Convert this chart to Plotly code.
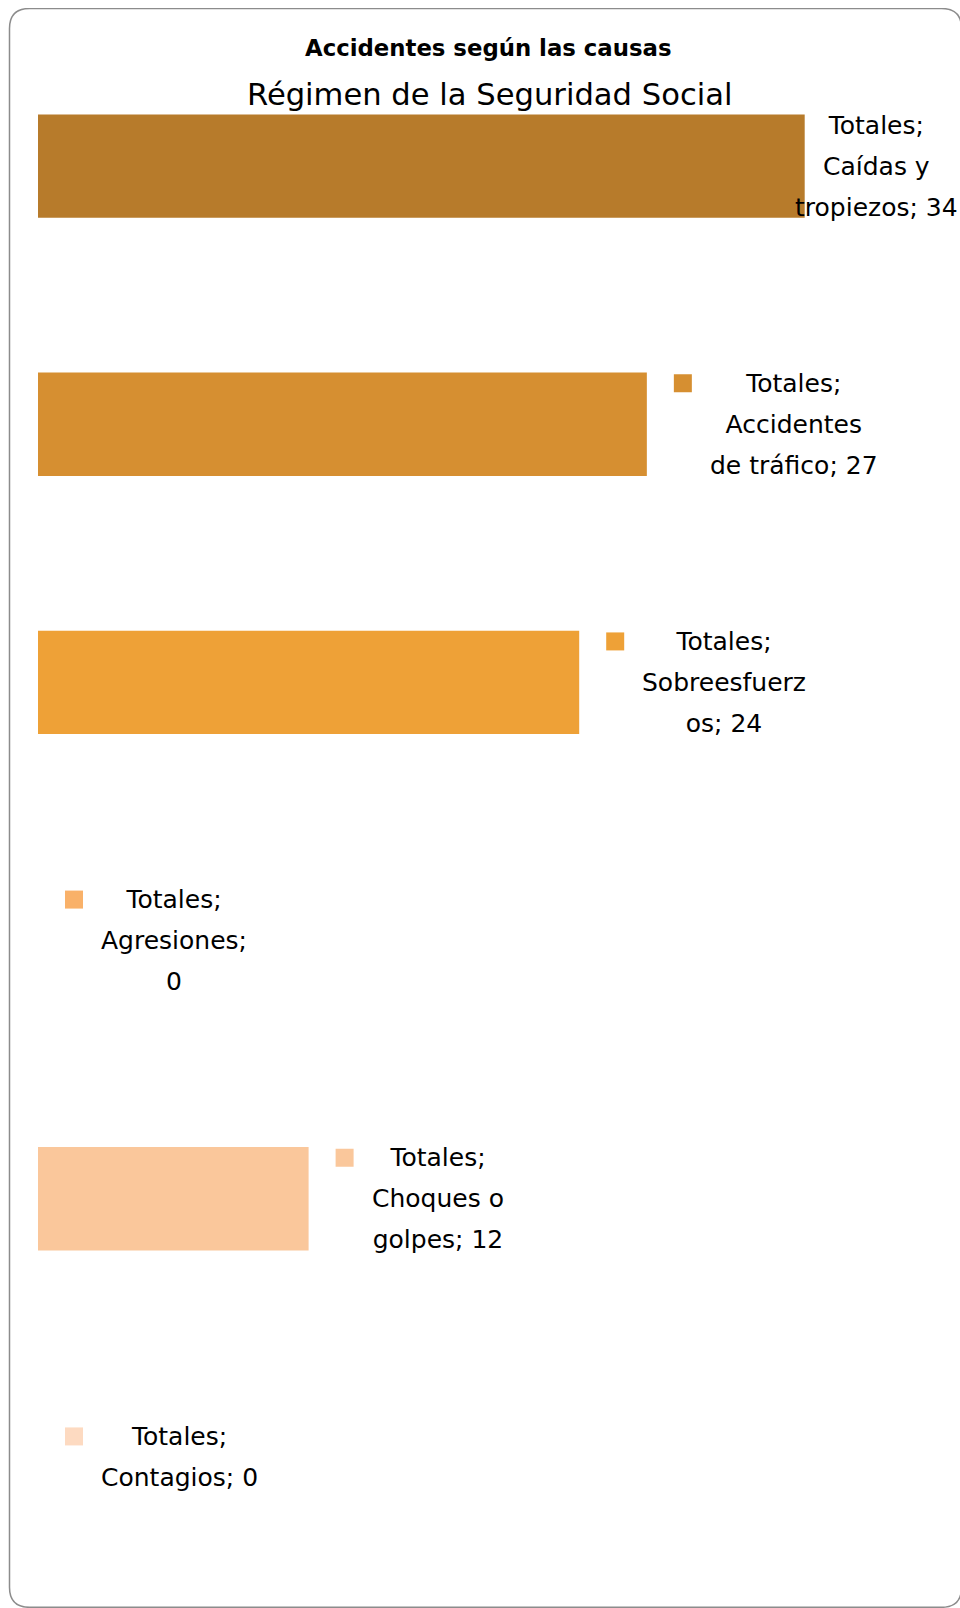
import plotly.graph_objects as go

# ---------------- data ----------------
categories = ["Caídas y tropiezos", "Accidentes de tráfico", "Sobreesfuerzos",
              "Agresiones", "Choques o golpes", "Contagios"]
values = [34, 27, 24, 0, 12, 0]
series_name = "Totales"
label_lines = [
    ["Totales;", "Caídas y", "tropiezos; 34"],
    ["Totales;", "Accidentes", "de tráfico; 27"],
    ["Totales;", "Sobreesfuerz", "os; 24"],
    ["Totales;", "Agresiones;", "0"],
    ["Totales;", "Choques o", "golpes; 12"],
    ["Totales;", "Contagios; 0"],
]
colors = ["#B77B2B", "#D68F31", "#EEA137", "#F9B169", "#FAC79B", "#FDDAC1"]
title_line1 = "Accidentes según las causas"
title_line2 = "Régimen de la Seguridad Social"

# ---------------- layout geometry ----------------
W, H = 952, 1600
OFF = 8  # page margin around the plot div (top / left)
ML, MR, MT, MB = 38 - OFF, 20, 37 - OFF, 22
PW, PH = W - ML - MR, H - MT - MB
XMAX = 40
FONT = "DejaVu Sans"


def px_x(px):  # page pixel -> paper
    return (px - OFF - ML) / PW


def px_y(py):
    return (H - MB - (py - OFF)) / PH


idx = list(range(len(categories)))

fig = go.Figure()
fig.add_trace(go.Bar(
    x=values, y=idx, orientation="h", width=0.4,
    marker=dict(color=colors, line=dict(width=0)),
    name=series_name, showlegend=False, hoverinfo="skip",
))

shapes = []
annotations = []

# card border (rounded rectangle)
L, R, T, B, r = 9.5, 961.5, 8.5, 1607.3, 20
path = (f"M {px_x(L + r)},{px_y(T)} L {px_x(R - r)},{px_y(T)} "
        f"Q {px_x(R)},{px_y(T)} {px_x(R)},{px_y(T + r)} "
        f"L {px_x(R)},{px_y(B - r)} Q {px_x(R)},{px_y(B)} {px_x(R - r)},{px_y(B)} "
        f"L {px_x(L + r)},{px_y(B)} Q {px_x(L)},{px_y(B)} {px_x(L)},{px_y(B - r)} "
        f"L {px_x(L)},{px_y(T + r)} Q {px_x(L)},{px_y(T)} {px_x(L + r)},{px_y(T)} Z")
shapes.append(dict(type="path", xref="paper", yref="paper", path=path,
                   line=dict(color="#8C8C8C", width=1.5), fillcolor="rgba(0,0,0,0)",
                   layer="below"))

LINE_PX = 41
TEXT_PX = 25
big = LINE_PX / 1.3

for i, (v, lines, c) in enumerate(zip(values, label_lines, colors)):
    text = "<br>".join(f"<span style='font-size:{TEXT_PX}px'>{ln}</span>" for ln in lines)
    n = len(lines)
    first_line_off = (n - 1) / 2 * LINE_PX  # pixels above centre
    end_px = OFF + ML + v / XMAX * PW
    if end_px + 27 + 18 + 16 + 180 > OFF + W:
        # label pushed back inside the chart area, no legend key
        annotations.append(dict(
            xref="paper", yref="y", x=1, y=i, xanchor="right", yanchor="middle",
            xshift=20, text=text, showarrow=False, align="center",
            font=dict(family=FONT, size=big, color="#000000")))
        continue
    shapes.append(dict(
        type="rect", xref="x", yref="y", xsizemode="pixel", ysizemode="pixel",
        xanchor=v, yanchor=i, x0=27, x1=45,
        y0=first_line_off - 9, y1=first_line_off + 9,
        fillcolor=c, line=dict(width=0)))
    annotations.append(dict(
        xref="x", yref="y", x=v, y=i, xanchor="left", yanchor="middle",
        xshift=61, text=text, showarrow=False, align="center",
        font=dict(family=FONT, size=big, color="#000000")))

annotations.append(dict(xref="paper", yref="paper", x=px_x(488), y=px_y(48),
                        xanchor="center", yanchor="middle", showarrow=False,
                        text=f"<b>{title_line1}</b>",
                        font=dict(family=FONT, size=22.8, color="#000000")))
annotations.append(dict(xref="paper", yref="paper", x=px_x(489), y=px_y(94),
                        xanchor="center", yanchor="middle", showarrow=False,
                        text=title_line2,
                        font=dict(family=FONT, size=30.6, color="#000000")))

fig.update_layout(
    width=W, height=H,
    margin=dict(l=ML, r=MR, t=MT, b=MB),
    paper_bgcolor="#FFFFFF", plot_bgcolor="rgba(0,0,0,0)",
    xaxis=dict(range=[0, XMAX], visible=False, fixedrange=True),
    yaxis=dict(range=[len(categories) - 0.5, -0.5], visible=False, fixedrange=True),
    shapes=shapes, annotations=annotations, showlegend=False,
    font=dict(family=FONT),
)

fig.write_html(
    "out.html",
    config={"displayModeBar": False},
    post_script="document.body.style.margin='8px 0 0 8px';"
                "document.documentElement.style.overflow='hidden';",
)
